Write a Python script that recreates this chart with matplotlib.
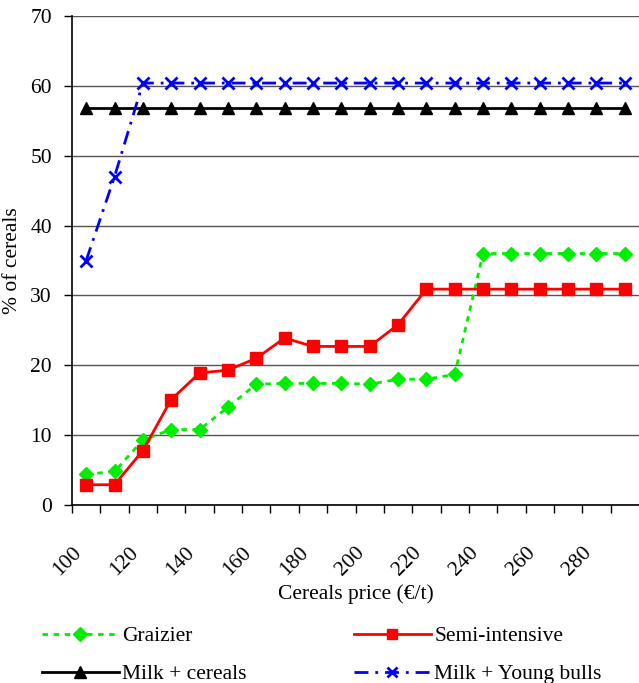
import numpy as np
import matplotlib
matplotlib.use('Agg')
import matplotlib.pyplot as plt

plt.rcParams['font.family'] = ['Liberation Serif', 'DejaVu Serif']

# cereals price (€/t), one point per 10 €/t band
price = [105, 115, 125, 135, 145, 155, 165, 175, 185, 195,
         205, 215, 225, 235, 245, 255, 265, 275, 285, 295]

graizier = [4.4, 4.8, 9.3, 10.8, 10.8, 14.0, 17.3, 17.4, 17.4, 17.4,
            17.3, 18.0, 18.0, 18.7, 36.0, 36.0, 36.0, 36.0, 36.0, 36.0]
semi_intensive = [2.9, 2.9, 7.8, 15.1, 18.9, 19.3, 21.0, 23.9, 22.7, 22.7,
                  22.7, 25.8, 30.9, 30.9, 30.9, 30.9, 30.9, 30.9, 30.9, 30.9]
milk_cereals = [56.8] * 20
milk_young_bulls = [35.0, 47.0, 60.4, 60.4, 60.4, 60.4, 60.4, 60.4, 60.4, 60.4,
                    60.4, 60.4, 60.4, 60.4, 60.4, 60.4, 60.4, 60.4, 60.4, 60.4]

fs = 15.5

fig = plt.figure(figsize=(6.39, 6.83), dpi=100)
ax = fig.add_axes([72 / 639, 1 - 505 / 683, 1 - 72 / 639, (505 - 16) / 683])

ax.plot(price, graizier, color='#00ee00', lw=2, dashes=(2, 2), marker='D', ms=7,
        label='Graizier', zorder=3)
ax.plot(price, semi_intensive, color='#ff0000', lw=2, marker='s', ms=8,
        label='Semi-intensive', zorder=3)
ax.plot(price, milk_cereals, color='black', lw=2, marker='^', ms=9,
        label='Milk + cereals', zorder=3)
ax.plot(price, milk_young_bulls, color='#0000ff', lw=2, dashes=(5, 2.5, 1, 2.5),
        marker='x', ms=8, mew=2, label='Milk + Young bulls', zorder=3)

ax.set_xlim(100, 300)
ax.set_ylim(0, 70)
ax.set_yticks(np.arange(0, 71, 10))
ax.set_xticks(np.arange(100, 300, 10), minor=True)
ax.set_xticks(np.arange(100, 281, 20))
ax.set_xticklabels([str(v) for v in range(100, 281, 20)], rotation=45,
                   ha='right', va='top', rotation_mode='anchor')
ax.tick_params(axis='both', labelsize=fs, direction='out', length=5.5, width=1)
ax.tick_params(axis='x', which='minor', length=5.5, width=1)
ax.tick_params(axis='x', pad=22)
ax.tick_params(axis='y', pad=9)

ax.yaxis.grid(True, color='#555555', lw=1)
ax.set_axisbelow(True)
for s in ['top', 'right']:
    ax.spines[s].set_visible(False)
ax.spines['left'].set_linewidth(1.2)
ax.spines['bottom'].set_linewidth(1.2)

ax.set_xlabel('Cereals price (€/t)', fontsize=fs, labelpad=3)
ax.set_ylabel('% of cereals', fontsize=fs, labelpad=6)

h, l = ax.get_legend_handles_labels()
order = [0, 2, 1, 3]
fig.legend([h[i] for i in order], [l[i] for i in order], ncol=2,
           loc='lower left', bbox_to_anchor=(0.035, -0.03), frameon=False,
           fontsize=fs, handlelength=3.6, handletextpad=0.15,
           columnspacing=4.95, labelspacing=0.83, markerscale=0.95)

fig.savefig('out.png', dpi=100)
